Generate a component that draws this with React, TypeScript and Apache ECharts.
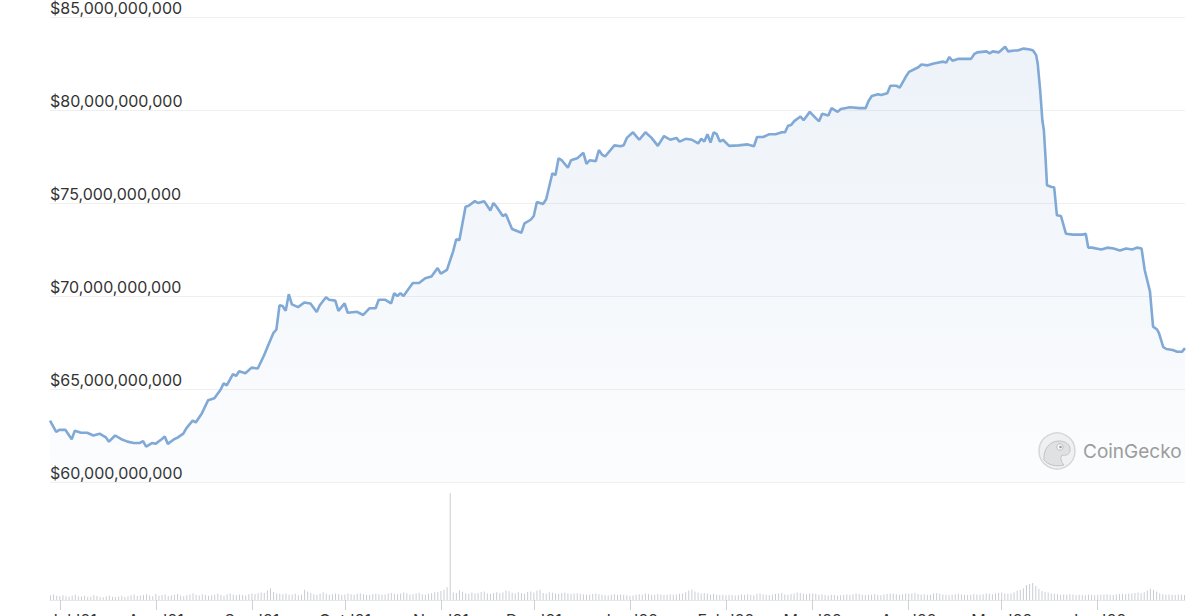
import React, { useEffect, useRef } from "react";
import * as echarts from "echarts";

// Time frame: daily points counted from 2021-06-28 (day 0) to 2022-06-29 (day 366)
const START_DATE = [2021, 5, 28];
const SPAN_DAYS = 366;

// Y axis ticks in billions of USD
const yTicks = [60, 65, 70, 75, 80, 85];
const monthNames = ["Jan", "Feb", "Mar", "Apr", "May", "Jun", "Jul", "Aug", "Sep", "Oct", "Nov", "Dec"];

// Market cap, [day offset, value in billions USD]
const capJulSep: [number, number][] = [
  [0, 63.3], [2, 62.7], [3, 62.8], [5, 62.8], [7, 62.3], [8, 62.76], [10, 62.65], [12, 62.65], [14, 62.5], [16, 62.6],
  [18, 62.4], [19, 62.17], [21, 62.5], [23, 62.3], [25, 62.17], [27, 62.1], [29, 62.1], [30, 62.2], [31, 61.9], [33, 62.1],
  [34, 62.05], [36, 62.3], [37, 62.44], [38, 62.05], [40, 62.3], [41, 62.37], [43, 62.6], [44, 62.9], [46, 63.3], [47, 63.2],
  [49, 63.7], [51, 64.4], [53, 64.5], [55, 64.96], [56, 65.3], [57, 65.2], [59, 65.8], [60, 65.7], [61, 65.95], [63, 65.85],
  [65, 66.15], [67, 66.1], [69, 66.8], [70, 67.2], [72, 68.0], [73, 68.2], [74, 69.5], [75, 69.46], [76, 69.2], [77, 70.1],
  [78, 69.55], [80, 69.4], [82, 69.65], [84, 69.6], [86, 69.14], [87, 69.5], [89, 69.93], [90, 69.8],
];
const capOctDec: [number, number][] = [
  [92, 69.75], [93, 69.2], [95, 69.6], [96, 69.1], [99, 69.15], [101, 68.98], [103, 69.34], [105, 69.34], [106, 69.8], [108, 69.8],
  [110, 69.6], [111, 70.15], [112, 70.0], [113, 70.15], [114, 70.0], [117, 70.7], [119, 70.7], [121, 70.95], [123, 71.05], [125, 71.5],
  [126, 71.2], [128, 71.4], [130, 72.4], [131, 73.05], [132, 73.0], [134, 74.8], [135, 74.85], [137, 75.1], [138, 75.0], [140, 75.1],
  [142, 74.6], [143, 75.0], [144, 74.8], [146, 74.3], [147, 74.4], [149, 73.6], [152, 73.4], [153, 73.9], [155, 74.1], [156, 74.3],
  [157, 75.05], [159, 74.95], [160, 75.2], [162, 76.6], [163, 76.5], [164, 77.4], [165, 77.3], [167, 76.9], [168, 77.3], [170, 77.4],
  [172, 77.7], [173, 77.1], [174, 77.3], [176, 77.25], [177, 77.85], [178, 77.6], [179, 77.5], [182, 78.1], [184, 78.05],
];
const capJanMar: [number, number][] = [
  [185, 78.1], [186, 78.5], [188, 78.8], [190, 78.4], [192, 78.8], [194, 78.5], [196, 78.07], [198, 78.6], [200, 78.4], [202, 78.5],
  [203, 78.3], [205, 78.45], [207, 78.4], [209, 78.2], [210, 78.45], [211, 78.3], [212, 78.7], [213, 78.25], [214, 78.8], [215, 78.7],
  [216, 78.3], [217, 78.4], [219, 78.07], [222, 78.1], [225, 78.15], [227, 78.05], [228, 78.55], [230, 78.55], [232, 78.7], [234, 78.7],
  [236, 78.8], [237, 78.8], [238, 79.15], [239, 79.2], [240, 79.4], [242, 79.65], [243, 79.45], [245, 79.9], [247, 79.55], [248, 79.4],
  [249, 79.8], [251, 79.7], [252, 80.1], [254, 79.9], [255, 80.05], [258, 80.15], [261, 80.1], [263, 80.1], [264, 80.5], [265, 80.75],
  [267, 80.85], [268, 80.8], [270, 80.9], [271, 81.3], [273, 81.3], [274, 81.2],
];
const capAprJun: [number, number][] = [
  [276, 81.8], [277, 82.05], [280, 82.3], [281, 82.45], [283, 82.4], [285, 82.5], [288, 82.6], [289, 82.55], [290, 82.85], [291, 82.65],
  [293, 82.75], [294, 82.75], [297, 82.75], [298, 83.0], [299, 83.1], [302, 83.15], [303, 83.05], [304, 83.15], [306, 83.1], [308, 83.4],
  [309, 83.15], [311, 83.2], [312, 83.2], [314, 83.3], [316, 83.25], [317, 83.2], [318, 82.95], [318.5, 82.5], [319.3, 81.06], [320, 79.45],
  [320.5, 78.9], [321, 77.5], [321.5, 75.95], [323, 75.86], [323.8, 75.85], [324.7, 74.34], [326, 74.3], [327.6, 73.35], [330, 73.3], [333, 73.3],
  [334, 73.35], [334.8, 72.6], [336, 72.6], [339, 72.5], [341, 72.6], [343, 72.55], [345, 72.45], [347, 72.55], [349, 72.5], [350.5, 72.6],
  [352, 72.55], [353, 71.4], [354.7, 70.25], [355.7, 68.35], [357, 68.2], [357.6, 68.0], [359, 67.25], [360, 67.15], [362, 67.1], [363.5, 67.0],
  [365, 67.0], [366, 67.2],
];

// Daily trading volume, billions USD, one per day from day 0
const volume: number[] = [
  // Jun 28-30
  45, 52, 40,
  // Jul
  38, 44, 35, 30, 42, 48, 36, 33, 40, 29, 31, 45, 37, 28, 26, 34, 41, 30, 27, 33, 39, 29, 35, 44, 52, 38, 41, 47, 55, 43, 36,
  // Aug
  58, 40, 46, 52, 38, 44, 49, 57, 42, 36, 45, 51, 63, 48, 41, 55, 47, 39, 44, 50, 58, 46, 40, 53, 61, 49, 44, 52, 47, 42, 55,
  // Sep
  60, 57, 64, 70, 66, 88, 110, 75, 62, 58, 54, 60, 49, 52, 58, 45, 50, 95, 80, 66, 55, 48, 60, 72, 58, 50, 53, 62, 57, 49,
  // Oct
  52, 60, 55, 48, 58, 63, 55, 50, 46, 57, 62, 54, 48, 52, 60, 66, 58, 55, 62, 70, 64, 52, 56, 60, 68, 55, 50, 58, 65, 72, 78,
  // Nov
  85, 95, 120, 1000, 70, 66, 92, 78, 64, 58, 70, 62, 66, 75, 80, 60, 58, 66, 72, 64, 70, 90, 82, 68, 60, 72, 66, 58, 74, 80,
  // Dec
  70, 88, 95, 66, 62, 72, 68, 60, 58, 66, 70, 62, 56, 60, 64, 58, 55, 52, 50, 57, 62, 55, 48, 45, 42, 50, 53, 47, 52, 48, 44,
  // Jan
  40, 42, 48, 55, 52, 60, 57, 50, 48, 56, 52, 46, 50, 55, 48, 52, 58, 60, 72, 88, 95, 80, 70, 62, 66, 60, 52, 58, 50, 46, 48,
  // Feb
  44, 50, 47, 42, 46, 52, 48, 55, 50, 45, 58, 62, 54, 48, 44, 50, 56, 60, 66, 52, 48, 57, 62, 70, 66, 58, 55, 62,
  // Mar
  60, 58, 50, 55, 47, 42, 48, 46, 40, 44, 50, 52, 47, 55, 60, 56, 50, 46, 48, 52, 57, 50, 45, 52, 56, 62, 58, 53, 50, 55, 60,
  // Apr
  58, 62, 66, 57, 52, 55, 48, 50, 60, 64, 58, 52, 48, 45, 50, 55, 58, 52, 48, 46, 50, 56, 52, 48, 55, 60, 58, 54, 62, 66,
  // May
  70, 62, 58, 64, 72, 88, 95, 110, 140, 150, 160, 130, 105, 85, 75, 70, 62, 58, 55, 50, 52, 48, 55, 52, 46, 50, 47, 44, 52, 48, 45,
  // Jun
  50, 48, 52, 55, 50, 47, 52, 56, 58, 54, 60, 62, 66, 70, 64, 72, 90, 105, 96, 80, 62, 55, 50, 52, 48, 46, 52, 50, 47,
];

const GECKO_PATH =
  "M5 27 C4 17 10 8 20 8 C27 8 32 12 31 18 C30 22 26 23 23 22 C21 25 22 29 25 32 C17 34 9 32 5 27 Z";

export default function App() {
  const ref = useRef<HTMLDivElement>(null);

  useEffect(() => {
    document.body.style.margin = "0";
    const DAY = 86400000;
    const t0 = new Date(START_DATE[0], START_DATE[1], START_DATE[2]).getTime();
    const tMax = t0 + SPAN_DAYS * DAY;
    const toTime = (d: number) => t0 + d * DAY;

    const capData = [...capJulSep, ...capOctDec, ...capJanMar, ...capAprJun].map(
      ([d, v]) => [toTime(d), v]
    );
    const volData = volume.map((v, i) => [toTime(i), v]);

    try {
      echarts.graphic.registerShape("gecko", echarts.graphic.extendPath(GECKO_PATH, {}));
    } catch (e) {}

    const chart = echarts.init(ref.current!, null, { renderer: "svg" });
    const font = "Inter, 'Noto Sans', Arial, sans-serif";
    let firstLabelDone = false;

    chart.setOption({
      animation: false,
      backgroundColor: "#ffffff",
      grid: [
        { left: 50, right: 15, top: 17, height: 465, outerBoundsMode: "none", containLabel: false },
        { left: 50, right: 15, top: 490, height: 110, outerBoundsMode: "none", containLabel: false },
      ],
      xAxis: [
        { gridIndex: 0, type: "time", min: t0, max: tMax, show: false },
        {
          gridIndex: 1,
          type: "time",
          min: t0,
          max: tMax,
          minInterval: 28 * DAY,
          maxInterval: 31 * DAY,
          axisLine: { show: true, lineStyle: { color: "#e8e8e8", width: 1 } },
          axisTick: { show: true, length: 10, lineStyle: { color: "#cfcfcf" } },
          axisLabel: {
            formatter: (value: number) => {
              const d = new Date(value);
              const txt = monthNames[d.getMonth()] + " '" + String(d.getFullYear()).slice(2);
              const isFirst = d.getFullYear() === 2021 && d.getMonth() === 6;
              return isFirst ? "{f|" + txt + "}" : txt;
            },
            color: "#333333",
            fontSize: 16,
            fontFamily: font,
            margin: 12,
            rich: {
              f: { color: "#333333", fontSize: 16, fontFamily: font, padding: [0, 0, 0, 26] },
            },
          },
          splitLine: { show: false },
        },
      ],
      yAxis: [
        {
          gridIndex: 0,
          type: "value",
          min: yTicks[0],
          max: yTicks[yTicks.length - 1],
          interval: yTicks[1] - yTicks[0],
          axisLine: { show: false },
          axisTick: { show: false },
          axisLabel: {
            inside: true,
            margin: 0,
            verticalAlign: "bottom",
            lineHeight: 16,
            padding: [0, 0, 1, 0],
            color: "#333333",
            fontSize: 16,
            fontFamily: font,
            formatter: (v: number) => "$" + Math.round(v * 1e9).toLocaleString("en-US"),
          },
          splitLine: { show: true, lineStyle: { color: "#efefef", width: 1 } },
        },
        {
          gridIndex: 1,
          type: "value",
          min: 0,
          max: 1030,
          show: false,
        },
      ],
      series: [
        {
          type: "line",
          xAxisIndex: 0,
          yAxisIndex: 0,
          data: capData,
          showSymbol: false,
          symbol: "none",
          lineStyle: { color: "#80a9d6", width: 2.6 },
          itemStyle: { color: "#80a9d6" },
          areaStyle: {
            color: new echarts.graphic.LinearGradient(0, 0, 0, 1, [
              { offset: 0, color: "rgba(127,166,212,0.2)" },
              { offset: 1, color: "rgba(127,166,212,0.04)" },
            ]),
          },
          z: 3,
        },
        {
          type: "bar",
          xAxisIndex: 1,
          yAxisIndex: 1,
          data: volData,
          barWidth: 1,
          itemStyle: { color: "#c9cdd3" },
        },
      ],
      graphic: [
        {
          type: "group",
          x: 1039,
          y: 433,
          z: 10,
          children: [
            {
              type: "circle",
              shape: { cx: 18, cy: 18, r: 18 },
              style: { fill: "#f3f3f3", stroke: "#d9d9d9", lineWidth: 1.5 },
            },
            {
              type: "gecko",
              x: 0,
              y: 0,
              scaleX: 1,
              scaleY: 1,
              style: { fill: "#e3e3e3", stroke: "#c4c4c4", lineWidth: 1 },
            },
            {
              type: "circle",
              shape: { cx: 21, cy: 14, r: 3.2 },
              style: { fill: "#ffffff", stroke: "#bdbdbd", lineWidth: 1 },
            },
            {
              type: "circle",
              shape: { cx: 21.5, cy: 14, r: 1.3 },
              style: { fill: "#9a9a9a" },
            },
          ],
        },
        {
          type: "text",
          x: 1083,
          y: 451,
          z: 10,
          style: {
            text: "CoinGecko",
            fill: "#9c9c9c",
            fontSize: 19,
            fontFamily: font,
            verticalAlign: "middle",
            align: "left",
          },
        },
      ],
    });

    return () => chart.dispose();
  }, []);

  return <div ref={ref} style={{ width: 1200, height: 616 }} />;
}
